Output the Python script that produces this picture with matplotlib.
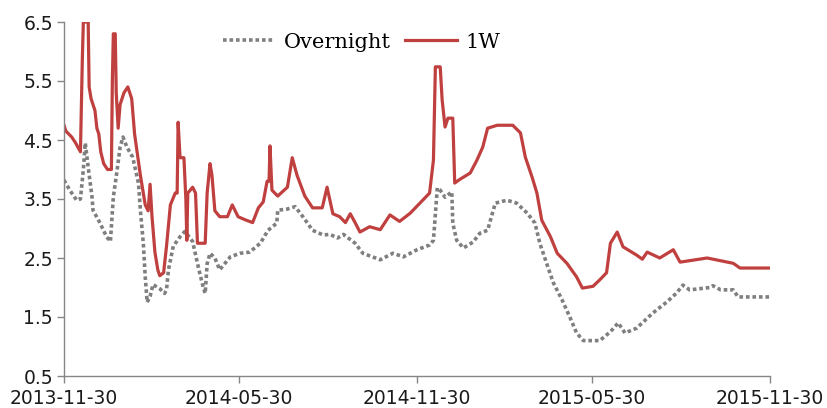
import matplotlib
matplotlib.use("Agg")
import matplotlib.pyplot as plt
import matplotlib.dates as mdates
import pandas as pd

START = pd.Timestamp("2013-11-30")

# days after START
DAY_ON = [0, 6, 13, 17, 20, 22, 25, 29, 30, 37, 44, 48, 51, 55, 58, 61, 65, 71, 77, 79,
          82, 84, 86, 89, 92, 99, 104, 106, 108, 113, 120, 125, 133, 138, 141, 144, 146,
          148, 151, 156, 161, 172, 182, 192, 203, 211, 220, 221, 231, 239, 247, 257, 268,
          275, 283, 289, 301, 309, 327, 340, 351, 365, 378, 382, 386, 389, 394, 401, 402,
          406, 413, 423, 430, 438, 443, 446, 458, 468, 479, 487, 492, 499, 506, 515, 523,
          530, 537, 554, 565, 573, 580, 592, 609, 623, 633, 640, 647, 668, 671, 679, 692,
          697, 730]
RATE_ON = [3.82, 3.65, 3.48, 3.5, 4.0, 4.45, 4.04, 3.53, 3.31, 3.1, 2.86, 2.78, 3.53, 4.0,
           4.38, 4.55, 4.38, 4.21, 3.77, 3.31, 2.75, 2.18, 1.75, 1.85, 2.05, 1.98, 1.9, 1.96,
           2.3, 2.7, 2.86, 2.95, 2.78, 2.41, 2.2, 2.0, 1.9, 2.4, 2.58, 2.5, 2.3, 2.52, 2.58,
           2.6, 2.75, 2.97, 3.09, 3.31, 3.33, 3.37, 3.2, 2.97, 2.89, 2.9, 2.84, 2.9, 2.75,
           2.58, 2.47, 2.58, 2.52, 2.64, 2.72, 2.8, 3.69, 3.65, 3.53, 3.62, 3.09, 2.8, 2.67,
           2.77, 2.92, 2.97, 3.26, 3.43, 3.48, 3.43, 3.26, 3.09, 2.75, 2.41, 2.08, 1.79, 1.5,
           1.23, 1.1, 1.1, 1.25, 1.4, 1.23, 1.31, 1.57, 1.75, 1.9, 2.04, 1.96, 2.0, 2.03,
           1.96, 1.96, 1.84, 1.84]

DAY_1W = [0, 2, 8, 12, 17, 19, 20, 25, 26, 28, 32, 34, 36, 38, 41, 45, 49, 50, 51, 53, 54,
          56, 58, 62, 66, 70, 73, 79, 84, 87, 89, 91, 94, 97, 99, 103, 106, 110, 115, 117,
          118, 120, 124, 126, 127, 128, 133, 136, 138, 146, 148, 151, 153, 156, 161, 169,
          174, 180, 187, 195, 201, 206, 210, 212, 213, 215, 221, 231, 236, 241, 249, 257,
          267, 272, 278, 285, 291, 296, 301, 306, 316, 327, 337, 347, 358, 368, 378, 382,
          384, 389, 391, 394, 397, 402, 404, 409, 420, 427, 433, 438, 448, 464, 472, 477,
          484, 489, 494, 503, 510, 520, 530, 536, 547, 554, 561, 565, 572, 578, 592, 598,
          603, 616, 630, 637, 665, 692, 699, 730]
RATE_1W = [4.75, 4.65, 4.55, 4.45, 4.3, 5.9, 6.5, 6.5, 5.4, 5.2, 5.0, 4.7, 4.6, 4.3, 4.1,
           4.0, 4.0, 5.5, 6.3, 6.3, 5.3, 4.7, 5.1, 5.3, 5.4, 5.2, 4.6, 3.9, 3.4, 3.3, 3.75,
           3.2, 2.6, 2.3, 2.2, 2.25, 2.7, 3.4, 3.6, 3.6, 4.8, 4.2, 4.2, 3.5, 2.8, 3.6, 3.7,
           3.6, 2.75, 2.75, 3.6, 4.1, 3.9, 3.3, 3.2, 3.2, 3.4, 3.2, 3.15, 3.1, 3.35, 3.45,
           3.8, 3.8, 4.4, 3.65, 3.55, 3.7, 4.2, 3.9, 3.55, 3.35, 3.35, 3.7, 3.25, 3.2, 3.1,
           3.25, 3.1, 2.94, 3.03, 2.98, 3.23, 3.12, 3.26, 3.43, 3.6, 4.16, 5.74, 5.74, 5.18,
           4.72, 4.87, 4.87, 3.77, 3.83, 3.94, 4.16, 4.38, 4.7, 4.75, 4.75, 4.62, 4.21, 3.87,
           3.6, 3.14, 2.86, 2.58, 2.41, 2.18, 1.99, 2.02, 2.13, 2.25, 2.75, 2.94, 2.69, 2.55,
           2.48, 2.6, 2.5, 2.64, 2.43, 2.5, 2.41, 2.33, 2.33]

TICK_DATES = ["2013-11-30", "2014-05-30", "2014-11-30", "2015-05-30", "2015-11-30"]
Y_TICKS = [0.5, 1.5, 2.5, 3.5, 4.5, 5.5, 6.5]


def to_dates(days):
    return START + pd.to_timedelta(days, unit="D")


def main() -> None:
    fig = plt.figure(figsize=(8.28, 4.08), dpi=100)
    ax = fig.add_axes([64 / 828, 32 / 408, 706 / 828, 354 / 408])

    ax.plot(to_dates(DAY_ON), RATE_ON, color="#7F7F7F", linewidth=2.6,
            linestyle=(0, (1, 0.8)), dash_capstyle="butt", label="Overnight")
    ax.plot(to_dates(DAY_1W), RATE_1W, color="#C0403F", linewidth=2.3, label="1W")

    ax.set_xlim(START, pd.Timestamp("2015-11-30"))
    ax.set_ylim(0.5, 6.5)
    ax.set_yticks(Y_TICKS)
    ax.set_yticklabels([f"{v:.1f}" for v in Y_TICKS])
    ax.set_xticks(pd.to_datetime(TICK_DATES))
    ax.xaxis.set_major_formatter(mdates.DateFormatter("%Y-%m-%d"))

    for side in ("top", "right"):
        ax.spines[side].set_visible(False)
    for side in ("left", "bottom"):
        ax.spines[side].set_color("#868686")
        ax.spines[side].set_linewidth(1.0)
    ax.tick_params(axis="both", colors="#868686", length=5, width=1.0,
                   labelsize=13.5, labelcolor="#1a1a1a")
    ax.tick_params(axis="x", pad=4)
    ax.tick_params(axis="y", pad=3)
    for lab in ax.get_xticklabels() + ax.get_yticklabels():
        lab.set_family("DejaVu Sans")

    ax.legend(loc="center left", bbox_to_anchor=(213 / 828, 1 - 42 / 408),
              bbox_transform=fig.transFigure, ncol=2, frameon=False,
              borderpad=0, handlelength=2.5, handletextpad=0.4, columnspacing=0.7,
              prop={"family": "DejaVu Serif", "size": 15})

    fig.savefig("out.png", dpi=100)
    plt.close(fig)


if __name__ == "__main__":
    main()
